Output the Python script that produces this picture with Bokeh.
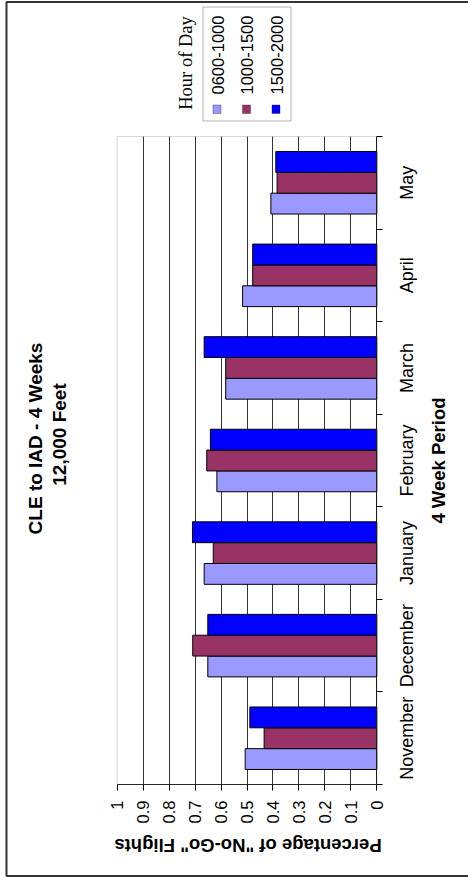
import math
from bokeh.plotting import figure
from bokeh.models import (Range1d, FixedTicker, Label, LabelSet, BoxAnnotation,
                          ColumnDataSource, LinearAxis, Grid)
from bokeh.core.properties import value
from bokeh.embed import file_html
from bokeh.resources import INLINE

# ---------------- data ----------------
months = ["November", "December", "January", "February", "March", "April", "May"]
h0600_1000 = [0.507, 0.651, 0.665, 0.616, 0.582, 0.517, 0.408]
h1000_1500 = [0.434, 0.709, 0.630, 0.655, 0.582, 0.478, 0.384]
h1500_2000 = [0.489, 0.651, 0.710, 0.641, 0.665, 0.478, 0.389]
series_names = ["0600-1000", "1000-1500", "1500-2000"]
series_colors = ["#9999FF", "#993366", "#0000FF"]
value_ticks = [0, 0.1, 0.2, 0.3, 0.4, 0.5, 0.6, 0.7, 0.8, 0.9, 1]
value_tick_labels = ["0", "0.1", "0.2", "0.3", "0.4", "0.5", "0.6", "0.7", "0.8", "0.9", "1"]
title_lines = ["CLE to IAD - 4 Weeks", "12,000 Feet"]
value_axis_title = "Percentage of \"No-Go\" Flights"
category_axis_title = "4 Week Period"
legend_title = "Hour of Day"

# ---------------- layout ----------------
W, H = 468, 880
PL, PR, PT, PB = 116.7, 376.3, 136.0, 784.0   # plot-area edges in canvas pixels
NC = len(months)
xs = (PR - PL) / 1.0          # px per value unit
ys = (PB - PT) / NC           # px per category
SANS = "Liberation Sans"
SERIF = "Liberation Serif"


def sx(X):
    return X


def sy(Y):
    return H - Y


def dx(X):
    return (PR - X) / xs


def dy(Y):
    return (PB - Y) / ys


p = figure(width=W, height=H, output_backend="svg", toolbar_location=None,
           x_range=Range1d(dx(0), dx(W)),
           y_range=Range1d(dy(H), dy(0)),
           x_axis_location=None, y_axis_location=None,
           min_border=0, min_border_left=0, min_border_right=0,
           min_border_top=0, min_border_bottom=0)
p.title.text = ""
p.title.visible = False
p.background_fill_color = "white"
p.border_fill_color = "white"
p.outline_line_color = None
p.grid.visible = False

# outer page frame (left, top, bottom edges; right edge lies off the page)
p.line(x=[dx(W + 20), dx(6), dx(6), dx(W + 20)], y=[dy(1.5), dy(1.5), dy(875.5), dy(875.5)],
       line_color="#333333", line_width=2)

# gridlines at value ticks, spanning only the plot area
inner_ticks = value_ticks[1:-1]
if "cross_bounds" in Grid.properties():
    g = Grid(dimension=0, ticker=FixedTicker(ticks=inner_ticks), bounds=(0.05, 0.95),
             cross_bounds=(0, NC), grid_line_color="#333333", grid_line_width=1)
    p.add_layout(g)
else:
    p.segment(x0=inner_ticks, y0=[0] * len(inner_ticks), x1=inner_ticks, y1=[NC] * len(inner_ticks),
              line_color="#333333", line_width=1)

# plot-area border (grey)
p.add_layout(BoxAnnotation(left=1, right=0, bottom=0, top=NC, fill_color=None,
                           line_color="#808080", line_width=1))

# bars
bar_h = 0.225
for k, vals in enumerate([h0600_1000, h1000_1500, h1500_2000]):
    off = (k - 1) * bar_h
    src = ColumnDataSource(dict(y=[i + 0.5 + off for i in range(NC)], v=vals))
    p.hbar(y="y", left=0, right="v", height=bar_h, source=src,
           fill_color=series_colors[k], line_color="black", line_width=1)

# value axis
xa = LinearAxis(fixed_location=0, bounds=(0, 1), ticker=FixedTicker(ticks=value_ticks))
xa.major_label_overrides = dict(zip(value_ticks, value_tick_labels))
xa.major_label_orientation = math.pi / 2
xa.major_label_standoff = 10
xa.major_label_text_font = SANS
xa.major_label_text_font_size = "16.5px"
xa.major_label_text_color = "black"
xa.major_tick_out = 6
xa.major_tick_in = 0
xa.minor_tick_out = 0
xa.minor_tick_in = 0
xa.axis_line_color = "black"
xa.major_tick_line_color = "black"
p.add_layout(xa, "below")

# category axis: ticks at category boundaries
bounds = list(range(NC + 1))
ya = LinearAxis(fixed_location=0, bounds=(0, NC), ticker=FixedTicker(ticks=bounds))
ya.major_label_overrides = {b: "" for b in bounds}
ya.major_tick_out = 6
ya.major_tick_in = 0
ya.minor_tick_out = 0
ya.minor_tick_in = 0
ya.axis_line_color = "black"
ya.major_tick_line_color = "black"
p.add_layout(ya, "right")

# category labels
cat_src = ColumnDataSource(dict(y=[i + 0.5 for i in range(NC)], t=months))
p.add_layout(LabelSet(x=sx(406.5), y="y", text="t", source=cat_src,
                      x_units="screen", y_units="data", angle=math.pi / 2,
                      text_align="center", text_baseline="middle",
                      text_font=value(SANS), text_font_size=value("18px"), text_color="black"))


def rot_label(X, Y, text, size, angle=math.pi / 2, bold=False, font=SANS, align="center"):
    p.add_layout(Label(x=sx(X), y=sy(Y), text=text, x_units="screen", y_units="screen",
                       angle=angle, text_align=align, text_baseline="middle",
                       text_font=font, text_font_size=size,
                       text_font_style="bold" if bold else "normal", text_color="black"))


# titles
rot_label(35, 438, title_lines[0], "19px", bold=True)
rot_label(58.5, 434, title_lines[1], "19px", bold=True)
rot_label(438, 460, category_axis_title, "18.5px", bold=True)
rot_label(247.5, 845, value_axis_title, "18.5px", angle=math.pi, bold=True)

# legend
p.add_layout(BoxAnnotation(left=sx(202.5), right=sx(290.5), top=sy(6.5), bottom=sy(120.5),
                           left_units="screen", right_units="screen",
                           top_units="screen", bottom_units="screen",
                           fill_color="white", fill_alpha=1, line_color="black", line_width=1))
for k in range(3):
    x0 = 212.5 + 29.5 * k
    p.add_layout(BoxAnnotation(left=sx(x0), right=sx(x0 + 8), top=sy(104.5), bottom=sy(113),
                               left_units="screen", right_units="screen",
                               top_units="screen", bottom_units="screen",
                               fill_color=series_colors[k], fill_alpha=1,
                               line_color="black", line_width=1))
    rot_label(217 + 29.5 * k, 94, series_names[k], "16.5px", align="left")
rot_label(185, 62.5, legend_title, "18.5px", font=SERIF)

open("out.html", "w").write(file_html(p, INLINE))
